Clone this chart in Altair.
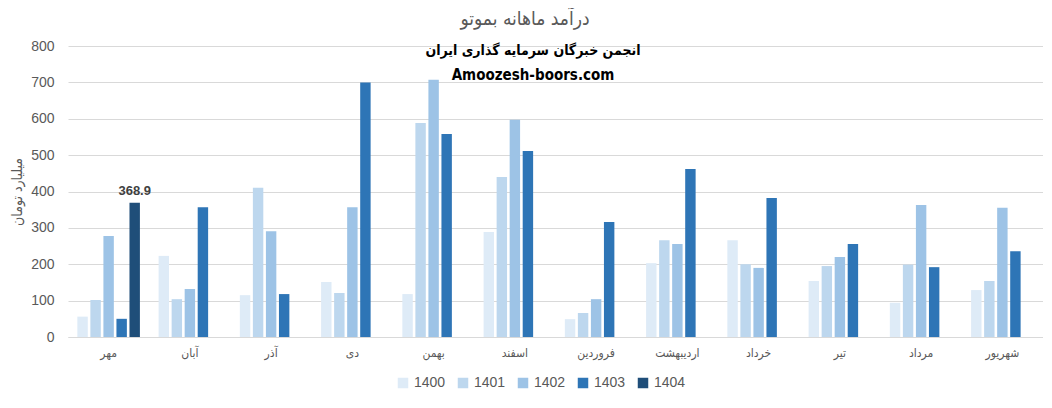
import altair as alt
import pandas as pd

months = ["مهر", "آبان", "آذر", "دی", "بهمن", "اسفند", "فروردین", "اردیبهشت", "خرداد", "تیر", "مرداد", "شهریور"]
years = ["1400", "1401", "1402", "1403", "1404"]
y1400 = [56, 223, 115, 151, 118, 289, 49, 203, 266, 154, 94, 129]
y1401 = [102, 104, 410, 121, 588, 440, 66, 266, 200, 195, 199, 154]
y1402 = [278, 132, 291, 357, 707, 597, 104, 256, 190, 220, 363, 355]
y1403 = [50, 357, 118, 700, 558, 511, 316, 462, 382, 256, 192, 236]
y1404 = [368.9, None, None, None, None, None, None, None, None, None, None, None]
ticks = [0, 100, 200, 300, 400, 500, 600, 700, 800]
colors = ["#DEEBF7", "#BDD7EE", "#9DC3E6", "#2E75B6", "#1F4E79"]

series = [y1400, y1401, y1402, y1403, y1404]
rows = []
for yr, vals in zip(years, series):
    for m, v in zip(months, vals):
        rows.append({"month": m, "year": yr, "value": v})
df = pd.DataFrame(rows)

FONT = "Liberation Sans, DejaVu Sans"
PFONT = "DejaVu Sans Condensed, DejaVu Sans"
GRAY = "#595959"

x = alt.X("month:N", sort=months, title=None,
          scale=alt.Scale(paddingInner=0.23, paddingOuter=0.115),
          axis=alt.Axis(labelAngle=0, ticks=False, domainColor="#D9D9D9", labelColor=GRAY,
                        labelFontSize=12, labelPadding=10, labelFont=PFONT))
xo = alt.XOffset("year:N", sort=years, scale=alt.Scale(domain=years, paddingInner=0.2))
y = alt.Y("value:Q", title="میلیارد تومان",
          scale=alt.Scale(domain=[0, 800], nice=False),
          axis=alt.Axis(values=ticks, labelOverlap=False, ticks=False, domain=False,
                        gridColor="#D9D9D9", labelColor=GRAY, labelFontSize=14, labelPadding=14,
                        labelFont=FONT, titleColor=GRAY, titleFontSize=14, titleFontWeight="normal",
                        titleFont=PFONT, titlePadding=6))

bars = alt.Chart(df).mark_bar().encode(
    x=x, xOffset=xo, y=y,
    color=alt.Color("year:N", sort=years,
                    scale=alt.Scale(domain=years, range=colors),
                    legend=alt.Legend(title=None, orient="none", direction="horizontal",
                                      legendX=328, legendY=330, symbolType="square",
                                      symbolSize=110, symbolStrokeWidth=0, labelFontSize=14,
                                      labelFont=FONT, labelColor=GRAY, columnPadding=10,
                                      labelOffset=4)),
)

label = alt.Chart(df).transform_filter("datum.year == '1404' && datum.value != null").mark_text(
    fontWeight="bold", fontSize=13, color="#404040", dy=-12, font=FONT
).encode(x=x, xOffset=xo, y=y, text=alt.Text("value:Q", format=".1f"))

title_df = pd.DataFrame({"t": ["درآمد ماهانه بموتو"]})
title = alt.Chart(title_df).mark_text(fontSize=19, color=GRAY, font=PFONT).encode(
    x=alt.value(457), y=alt.value(-27), text="t:N")
sub1_df = pd.DataFrame({"t": ["انجمن خبرگان سرمایه گذاری ایران"]})
sub1 = alt.Chart(sub1_df).mark_text(fontSize=14, fontWeight="bold", color="#000000", font=PFONT).encode(
    x=alt.value(465), y=alt.value(5), text="t:N")
sub2_df = pd.DataFrame({"t": ["Amoozesh-boors.com"]})
sub2 = alt.Chart(sub2_df).mark_text(fontSize=15, fontWeight="bold", color="#000000", font=PFONT).encode(
    x=alt.value(465), y=alt.value(29), text="t:N")

chart = alt.layer(bars, label, title, sub1, sub2).properties(
    width=975, height=291,
    padding={"left": 2, "top": 2, "right": 0, "bottom": 0},
).configure(view=alt.ViewConfig(stroke=None))

chart.save("out.html", embed_options={"renderer": "svg", "actions": False})
